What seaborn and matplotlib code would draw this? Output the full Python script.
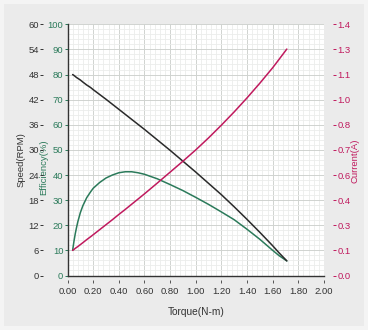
import matplotlib
matplotlib.use("Agg")
import matplotlib.pyplot as plt
from matplotlib.patches import Rectangle
from matplotlib.ticker import MultipleLocator, FixedLocator, FixedFormatter
import seaborn as sns
import pandas as pd

sns.set_style("white")
plt.rcParams['font.family'] = ['Liberation Sans', 'DejaVu Sans']

# ---- data ----
torque = [0.04, 0.05, 0.06, 0.07, 0.08, 0.10, 0.12, 0.15, 0.18, 0.20, 0.25,
          0.30, 0.35, 0.40, 0.45, 0.50, 0.55, 0.60, 0.70, 0.80, 0.90, 1.00,
          1.10, 1.20, 1.30, 1.40, 1.50, 1.60, 1.65, 1.71]
speed = [48.0, 47.8, 47.55, 47.3, 47.1, 46.7, 46.2, 45.5, 44.9, 44.4, 43.25,
         42.1, 40.9, 39.7, 38.5, 37.3, 36.1, 34.9, 32.4, 29.9, 27.3, 24.7,
         22.0, 19.3, 16.4, 13.4, 10.3, 7.1, 5.4, 3.5]
efficiency = [10.0, 13.5, 16.5, 19.0, 21.3, 25.0, 27.8, 31.0, 33.3, 34.7, 37.0,
              38.8, 40.0, 40.9, 41.3, 41.3, 40.9, 40.3, 38.5, 36.2, 33.8, 31.1,
              28.3, 25.3, 22.2, 18.4, 14.4, 10.0, 7.9, 5.8]
current = [0.140, 0.145, 0.151, 0.156, 0.161, 0.172, 0.183, 0.200, 0.216, 0.227, 0.255,
           0.283, 0.311, 0.340, 0.368, 0.397, 0.426, 0.455, 0.515, 0.576, 0.637, 0.700,
           0.767, 0.838, 0.912, 0.990, 1.072, 1.158, 1.205, 1.262]

x_ticks = [0.0, 0.2, 0.4, 0.6, 0.8, 1.0, 1.2, 1.4, 1.6, 1.8, 2.0]
speed_ticks = [0, 6, 12, 18, 24, 30, 36, 42, 48, 54, 60]
eff_ticks = [0, 10, 20, 30, 40, 50, 60, 70, 80, 90, 100]
current_ticks = [0.0, 0.14, 0.28, 0.42, 0.56, 0.70, 0.84, 0.98, 1.12, 1.26, 1.40]
current_labels = ['0.0', '0.1', '0.3', '0.4', '0.6', '0.7', '0.8', '1.0', '1.1', '1.3', '1.4']

df = pd.DataFrame({'torque': torque, 'speed': speed,
                   'efficiency': efficiency, 'current': current})

C_SPEED = '#2a2a2a'
C_EFF = '#2b7a5a'
C_CUR = '#c01a5e'
C_TXT = '#333333'
FS = 6.8

fig = plt.figure(figsize=(3.68, 3.30), dpi=100)
fig.patch.set_facecolor('#f4f4f4')
fig.patches.append(Rectangle((0.012, 0.012), 0.976, 0.976, transform=fig.transFigure,
                             facecolor='#ebebeb', edgecolor='none', zorder=-10))

ax = fig.add_axes([67.5 / 368, 1 - 275.5 / 330, (324 - 67.5) / 368, (275.5 - 24.3) / 330])
ax.set_facecolor('white')

# efficiency on main axis
sns.lineplot(data=df, x='torque', y='efficiency', ax=ax, color=C_EFF, lw=1.1, zorder=3)
ax.set_xlim(0, 2.0)
ax.set_ylim(0, 100)
ax.xaxis.set_major_locator(FixedLocator(x_ticks))
ax.xaxis.set_minor_locator(MultipleLocator(0.04))
ax.yaxis.set_major_locator(FixedLocator(eff_ticks))
ax.yaxis.set_minor_locator(MultipleLocator(2))
ax.grid(which='major', color='#d0d3d0', lw=0.7)
ax.grid(which='minor', color='#ebedeb', lw=0.6)
ax.set_axisbelow(True)
for s in ['top', 'right']:
    ax.spines[s].set_visible(False)
for s in ['left', 'bottom']:
    ax.spines[s].set_color('#333333')
    ax.spines[s].set_linewidth(1.0)
ax.tick_params(axis='y', which='major', length=2.2, width=0.7, color=C_EFF,
               labelcolor=C_EFF, labelsize=FS, pad=0.8)
ax.tick_params(axis='x', which='both', length=0, labelbottom=False)
ax.tick_params(axis='y', which='minor', length=0)
ax.set_xlabel('')
ax.set_ylabel('Efficiency(%)', color=C_EFF, fontsize=FS)
ax.yaxis.set_label_coords(-0.094, 0.43)
ax.yaxis.label.set_va('center')

# secondary x axis for offset tick marks
sec = ax.secondary_xaxis(-0.018)
sec.xaxis.set_major_locator(FixedLocator(x_ticks))
sec.xaxis.set_major_formatter(FixedFormatter(['%.2f' % v for v in x_ticks]))
sec.spines['bottom'].set_visible(False)
sec.tick_params(axis='x', length=2.2, width=0.7, color='#555555', labelsize=FS,
                labelcolor=C_TXT, pad=2.5)
sec.set_xlabel('Torque(N-m)', fontsize=7.3, color=C_TXT, labelpad=8)

# speed axis (left, offset)
ax_s = ax.twinx()
sns.lineplot(data=df, x='torque', y='speed', ax=ax_s, color=C_SPEED, lw=1.1, zorder=3)
ax_s.set_ylim(0, 60)
ax_s.yaxis.set_major_locator(FixedLocator(speed_ticks))
ax_s.yaxis.tick_left()
ax_s.yaxis.set_label_position('left')
ax_s.spines['left'].set_position(('outward', 17.5))
for s in ['left', 'right', 'top', 'bottom']:
    ax_s.spines[s].set_visible(False)
ax_s.tick_params(axis='y', length=2.2, width=0.7, color=C_TXT, labelcolor=C_TXT,
                 labelsize=FS, pad=0.8)
ax_s.set_ylabel('Speed(RPM)', color=C_TXT, fontsize=FS)
ax_s.yaxis.set_label_coords(-0.182, 0.46)
ax_s.yaxis.label.set_va('center')
ax_s.set_xlabel('')

# current axis (right, offset)
ax_c = ax.twinx()
sns.lineplot(data=df, x='torque', y='current', ax=ax_c, color=C_CUR, lw=1.1, zorder=3)
ax_c.set_ylim(0, 1.4)
ax_c.yaxis.set_major_locator(FixedLocator(current_ticks))
ax_c.yaxis.set_major_formatter(FixedFormatter(current_labels))
ax_c.spines['right'].set_position(('outward', 6.5))
for s in ['left', 'right', 'top', 'bottom']:
    ax_c.spines[s].set_visible(False)
ax_c.tick_params(axis='y', length=2.2, width=0.7, color=C_CUR, labelcolor=C_CUR,
                 labelsize=FS, pad=0.8)
ax_c.set_ylabel('Current(A)', color=C_CUR, fontsize=FS)
ax_c.yaxis.set_label_coords(1.121, 0.456)
ax_c.yaxis.label.set_va('center')
ax_c.set_xlabel('')
ax_c.set_xlim(0, 2.0)
ax_s.set_xlim(0, 2.0)

fig.savefig('out.png', dpi=100, facecolor=fig.get_facecolor())
